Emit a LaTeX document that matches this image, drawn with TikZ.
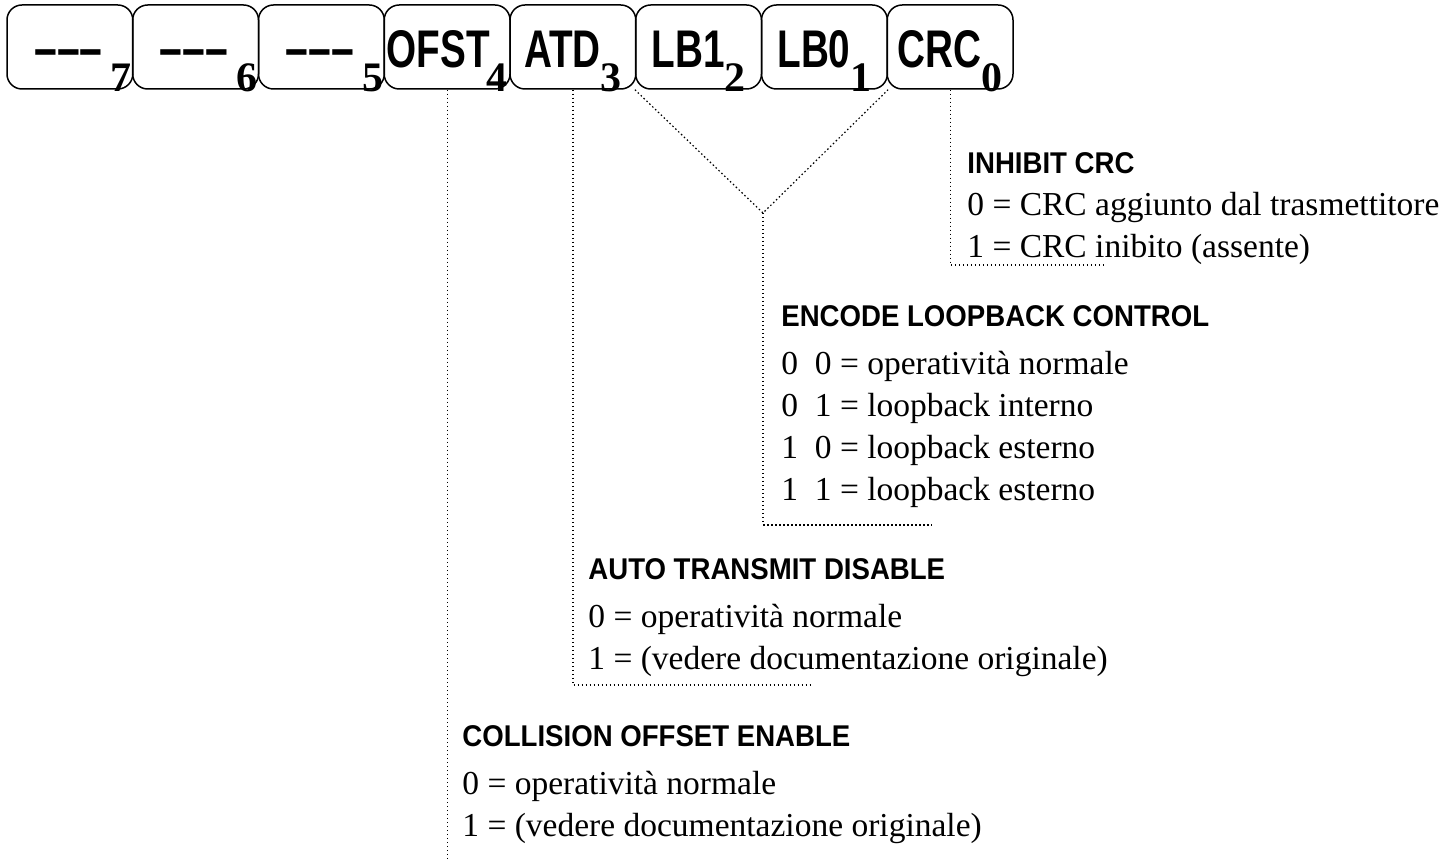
\documentclass[tikz,border=0pt]{standalone}
\usepackage{fontspec}
\setmainfont{Liberation Serif}
\newfontfamily\bitfont[FakeStretch=0.73]{Liberation Sans}
\newfontfamily\headfont[FakeStretch=0.92]{Liberation Sans}
\usetikzlibrary{positioning}

% etichetta del bit con indice
\newcommand{\bitlabel}[2]{%
  {\bitfont\bfseries\fontsize{26.5}{30}\selectfont #1}%
  \raisebox{-12pt}{\bfseries\fontsize{21}{24}\selectfont #2}}
\newcommand{\nobit}{\hspace{13pt}{\fontsize{28}{30}\selectfont –––}\hspace{4pt}}
\newcommand{\fieldhead}[1]{{\headfont\bfseries\fontsize{15}{21}\selectfont #1}}

\begin{document}
\begin{tikzpicture}[
  x=0.5pt, y=0.5pt,
  bit/.style={
    draw, rounded corners=7.5pt, line width=0.75pt,
    minimum width=62.9pt, minimum height=42pt,
    inner sep=0pt, text height=21.5pt, text depth=1pt
  },
  dotline/.style={
    line width=0.6pt, dash pattern=on 0.75pt off 1.25pt
  },
  desc/.style={
    anchor=north west, align=left, inner sep=0pt,
    font=\fontsize{16.75}{21}\selectfont
  }
]
\useasboundingbox (0,0) rectangle (1456,-860);

%% ── Registro: bit 7 ... bit 0 ────────────────────────────────────────────
\node[bit] (b7) at (69.9, -47)  {\bitlabel{\nobit}{7}};
\node[bit] (b6) at (195.6, -47) {\bitlabel{\nobit}{6}};
\node[bit] (b5) at (321.4, -47) {\bitlabel{\nobit}{5}};
\node[bit] (b4) at (447.1, -47) {\bitlabel{OFST\kern-1.5pt}{4}};
\node[bit] (b3) at (572.9, -47) {\bitlabel{ATD}{3}};
\node[bit] (b2) at (698.6, -47) {\bitlabel{LB1}{2}};
\node[bit] (b1) at (824.4, -47) {\bitlabel{LB0}{1}};
\node[bit] (b0) at (950.1, -47) {\bitlabel{CRC}{0}};

%% ── Descrizioni (angolo in alto a sinistra = testa del titolo) ───────────
\node[desc] (crcDesc) at (967, -152)
  {\fieldhead{INHIBIT CRC}\\[0pt]
   0 = CRC aggiunto dal trasmettitore\\
   1 = CRC inibito (assente)};

\node[desc] (lbDesc) at (781, -305)
  {\fieldhead{ENCODE LOOPBACK CONTROL}\\[3pt]
   0~~0 = operatività normale\\
   0~~1 = loopback interno\\
   1~~0 = loopback esterno\\
   1~~1 = loopback esterno};

\node[desc] (atdDesc) at (588, -558)
  {\fieldhead{AUTO TRANSMIT DISABLE}\\[3pt]
   0 = operatività normale\\
   1 = (vedere documentazione originale)};

\node[desc] (ofstDesc) at (462, -725)
  {\fieldhead{COLLISION OFFSET ENABLE}\\[3pt]
   0 = operatività normale\\
   1 = (vedere documentazione originale)};

%% ── Richiami tratteggiati ────────────────────────────────────────────────
\coordinate (crcEnd)  at (1105, -265);
\coordinate (lbJoin)  at (763, -213);
\coordinate (lbEnd)   at (932, -525);
\coordinate (atdEnd)  at (810, -685);
\coordinate (ofstEnd) at (b4.south |- 0, -860);

\draw[dotline] (b0.south) |- (crcEnd);
\draw[dotline] (b2.south west) -- (lbJoin) -- (b1.south east);
\draw[dotline] (lbJoin) |- (lbEnd);
\draw[dotline] (b3.south) |- (atdEnd);
\draw[dotline] (b4.south) -- (ofstEnd);

\end{tikzpicture}
\end{document}
